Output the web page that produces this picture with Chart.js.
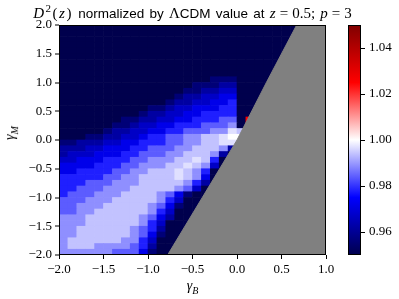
<!DOCTYPE html>
<html>
<head>
<meta charset="utf-8">
<script src="https://cdn.jsdelivr.net/npm/chart.js@4.4.1/dist/chart.umd.min.js"></script>
<style>
  html, body { margin: 0; padding: 0; background: #fff; }
  #wrap { position: relative; width: 399px; height: 299px; overflow: hidden; }
  canvas { position: absolute; top: 0; }
  #main { left: 0; }
  #cbar { left: 330px; }
  .lbl { position: absolute; font-family: "Liberation Serif", serif; color: #000; white-space: nowrap; }
  .mi { font-style: italic; }
  .sans { font-family: "Liberation Sans", sans-serif; font-size: 13.5px; }
  .op { margin: 0 4px; }
  #title { left: 0; width: 385px; top: 2px; text-align: center; font-size: 15px; word-spacing: 1.5px; }
  #title sup { font-size: 11px; }
  #title .dz { letter-spacing: 1.5px; }
  #xlab { left: 0; width: 385px; top: 278px; text-align: center; font-size: 14px; }
  #ylab { left: 11px; top: 133px; font-size: 14px; transform: translate(-50%, -50%) rotate(-90deg); }
  sub { font-size: 10px; }
</style>
</head>
<body>
<div id="wrap">
  <canvas id="main" width="399" height="299"></canvas>
  <canvas id="cbar" width="69" height="299"></canvas>
  <div id="title" class="lbl"><span class="dz"><span class="mi">D</span><sup>2</sup>(<span class="mi">z</span>)</span> <span class="sans">normalized by</span> Λ<span class="sans">CDM value at</span> <span class="mi">z</span><span class="op">=</span>0.5; <span class="mi">p</span><span class="op">=</span>3</div>
  <div id="xlab" class="lbl"><span class="mi">γ</span><sub class="mi">B</sub></div>
  <div id="ylab" class="lbl"><span class="mi">γ</span><sub class="mi">M</sub></div>
</div>
<script>
// cell centres (gamma_B across, gamma_M down from the top)
const gammaB = [-1.95, -1.85, -1.75, -1.65, -1.55, -1.45, -1.35, -1.25, -1.15, -1.05,
                -0.95, -0.85, -0.75, -0.65, -0.55, -0.45, -0.35, -0.25, -0.15, -0.05,
                 0.05,  0.15,  0.25,  0.35,  0.45,  0.55,  0.65,  0.75,  0.85,  0.95];
const gammaM = [1.95, 1.85, 1.75, 1.65, 1.55, 1.45, 1.35, 1.25, 1.15, 1.05,
                0.95, 0.85, 0.75, 0.65, 0.55, 0.45, 0.35, 0.25, 0.15, 0.05,
               -0.05, -0.15, -0.25, -0.35, -0.45, -0.55, -0.65, -0.75, -0.85, -0.95,
               -1.05, -1.15, -1.25, -1.35, -1.45, -1.55, -1.65, -1.75, -1.85, -1.95];

// one char per cell; cells past the end of a row are masked (grey)
const codeValue = { "0": 0.950, "1": 0.956, "2": 0.962, "3": 0.967, "4": 0.972,
                    "5": 0.978, "6": 0.984, "7": 0.989, "8": 0.994, "9": 0.997,
                    "W": 1.000, "R": 1.025 };
const ratioRows = [
  "000000000000000000000000000",
  "000000000000000000000000000",
  "000000000000000000000000000",
  "00000000000000000000000000",
  "00000000000000000000000000",
  "00000000000000000000000000",
  "0000000000000000000000000",
  "0000000000000000000000000",
  "0000000000000000000000000",
  "000000000000000001110000",
  "000000000000000111220000",
  "000000000000001122330000",
  "00000000000001223344000",
  "00000000000012233445000",
  "00000000001123344455000",
  "0000000001223344555500",
  "000000011223344555660R",
  "000000112334455566670R",
  "000001223344556667798",
  "0001122334556677889WW",
  "11222334455566778899",
  "22233444556667788872",
  "23334445566677888720",
  "3344455566777889850",
  "4444555667778898730",
  "4455556677888987500",
  "555556677888898740",
  "555666777888887520",
  "55666777888887630",
  "56667778888764100",
  "66677788888753000",
  "6677788888764100",
  "6677888888753000",
  "777888888764200",
  "777888888753000",
  "778888887652000",
  "77888888764100",
  "78888887753000",
  "7888777765200",
  "7777776664100"
];

// edge of the masked (grey) region
const edgeB = [-0.78, -0.39, 0.0, 0.33, 0.67, 1.0];
const edgeM = [-2.0, -1.0, 0.0, 1.0, 2.0, 2.0];

const barTicks = [0.96, 0.98, 1.00, 1.02, 1.04];
const vmin = 0.95, vmax = 1.05;

// matplotlib "seismic"
const stops = [[0, 0, 0, 76.5], [0.25, 0, 0, 255], [0.5, 255, 255, 255], [0.75, 255, 0, 0], [1, 127.5, 0, 0]];
function seismic(v) {
  let t = (v - vmin) / (vmax - vmin);
  t = Math.max(0, Math.min(1, t));
  for (let k = 1; k < stops.length; k++) {
    if (t <= stops[k][0]) {
      const a = stops[k - 1], b = stops[k];
      const f = (t - a[0]) / (b[0] - a[0]);
      const c = [1, 2, 3].map(n => Math.round(a[n] + (b[n] - a[n]) * f));
      return `rgb(${c[0]},${c[1]},${c[2]})`;
    }
  }
}

const cells = [];
ratioRows.forEach((row, j) => {
  [...row].forEach((ch, i) => {
    cells.push({ x: gammaB[i], y: [gammaM[j] - 0.05, gammaM[j] + 0.05], v: codeValue[ch] });
  });
});

const frame = {
  id: "frame",
  afterDatasetsDraw(chart) {
    const a = chart.chartArea, ctx = chart.ctx;
    ctx.save();
    ctx.strokeStyle = "#000";
    ctx.lineWidth = 1;
    ctx.strokeRect(Math.round(a.left) + 0.5, Math.round(a.top) + 0.5,
                   Math.round(a.right - a.left) - 1, Math.round(a.bottom - a.top) - 1);
    ctx.restore();
  }
};

const fmt = v => (v < 0 ? "\u2212" : "") + Math.abs(v).toFixed(1);
const tickFont = { family: "Liberation Serif", size: 13 };

new Chart(document.getElementById("main"), {
  type: "bar",
  data: {
    datasets: [
      {
        type: "line",
        data: edgeB.map((b, k) => ({ x: b, y: edgeM[k] })),
        fill: "start",
        backgroundColor: "#808080",
        borderColor: "#808080",
        borderWidth: 1,
        pointRadius: 0,
        tension: 0,
        order: 0
      },
      {
        data: cells,
        backgroundColor: c => seismic(c.raw.v),
        borderWidth: 0,
        barPercentage: 1,
        categoryPercentage: 1,
        order: 1
      }
    ]
  },
  options: {
    responsive: false,
    animation: false,
    devicePixelRatio: 1,
    events: [],
    layout: { padding: { left: 0, top: 25, right: 73, bottom: 0 } },
    plugins: { legend: { display: false }, tooltip: { enabled: false } },
    scales: {
      x: {
        type: "linear", min: -2, max: 1, offset: false,
        grid: { offset: false, drawOnChartArea: false, tickLength: 4, tickColor: "#000" },
        border: { display: false },
        ticks: { stepSize: 0.5, callback: fmt, font: tickFont, color: "#000", padding: 3, maxRotation: 0, autoSkip: false },
        afterFit: s => { s.height = 44; }
      },
      y: {
        type: "linear", min: -2, max: 2,
        grid: { drawOnChartArea: false, lineWidth: 0, tickWidth: 1, tickLength: 4, tickColor: "#000" },
        border: { display: false },
        ticks: { stepSize: 0.5, callback: fmt, font: tickFont, color: "#000", padding: 3, autoSkip: false },
        afterFit: s => { s.width = 59; }
      }
    }
  },
  plugins: [frame]
});

new Chart(document.getElementById("cbar"), {
  type: "bar",
  data: {
    labels: [""],
    datasets: [{
      data: [[vmin, vmax]],
      backgroundColor: c => {
        const area = c.chart.chartArea;
        if (!area) return "#000";
        const g = c.chart.ctx.createLinearGradient(0, area.bottom, 0, area.top);
        stops.forEach(s => g.addColorStop(s[0], `rgb(${s[1]},${s[2]},${s[3]})`));
        return g;
      },
      borderWidth: 0,
      barPercentage: 1,
      categoryPercentage: 1
    }]
  },
  options: {
    responsive: false,
    animation: false,
    devicePixelRatio: 1,
    events: [],
    layout: { padding: { left: 18, top: 25, right: 0, bottom: 44 } },
    plugins: { legend: { display: false }, tooltip: { enabled: false } },
    scales: {
      x: { display: false },
      y: {
        position: "right", min: vmin, max: vmax,
        afterBuildTicks: s => { s.ticks = barTicks.map(v => ({ value: v })); },
        grid: { drawOnChartArea: false, tickLength: 4, tickColor: "#000" },
        border: { display: false },
        ticks: { callback: v => Number(v).toFixed(2), font: tickFont, color: "#000", padding: 4 },
        afterFit: s => { s.width = 38; }
      }
    }
  },
  plugins: [frame]
});
</script>
</body>
</html>
